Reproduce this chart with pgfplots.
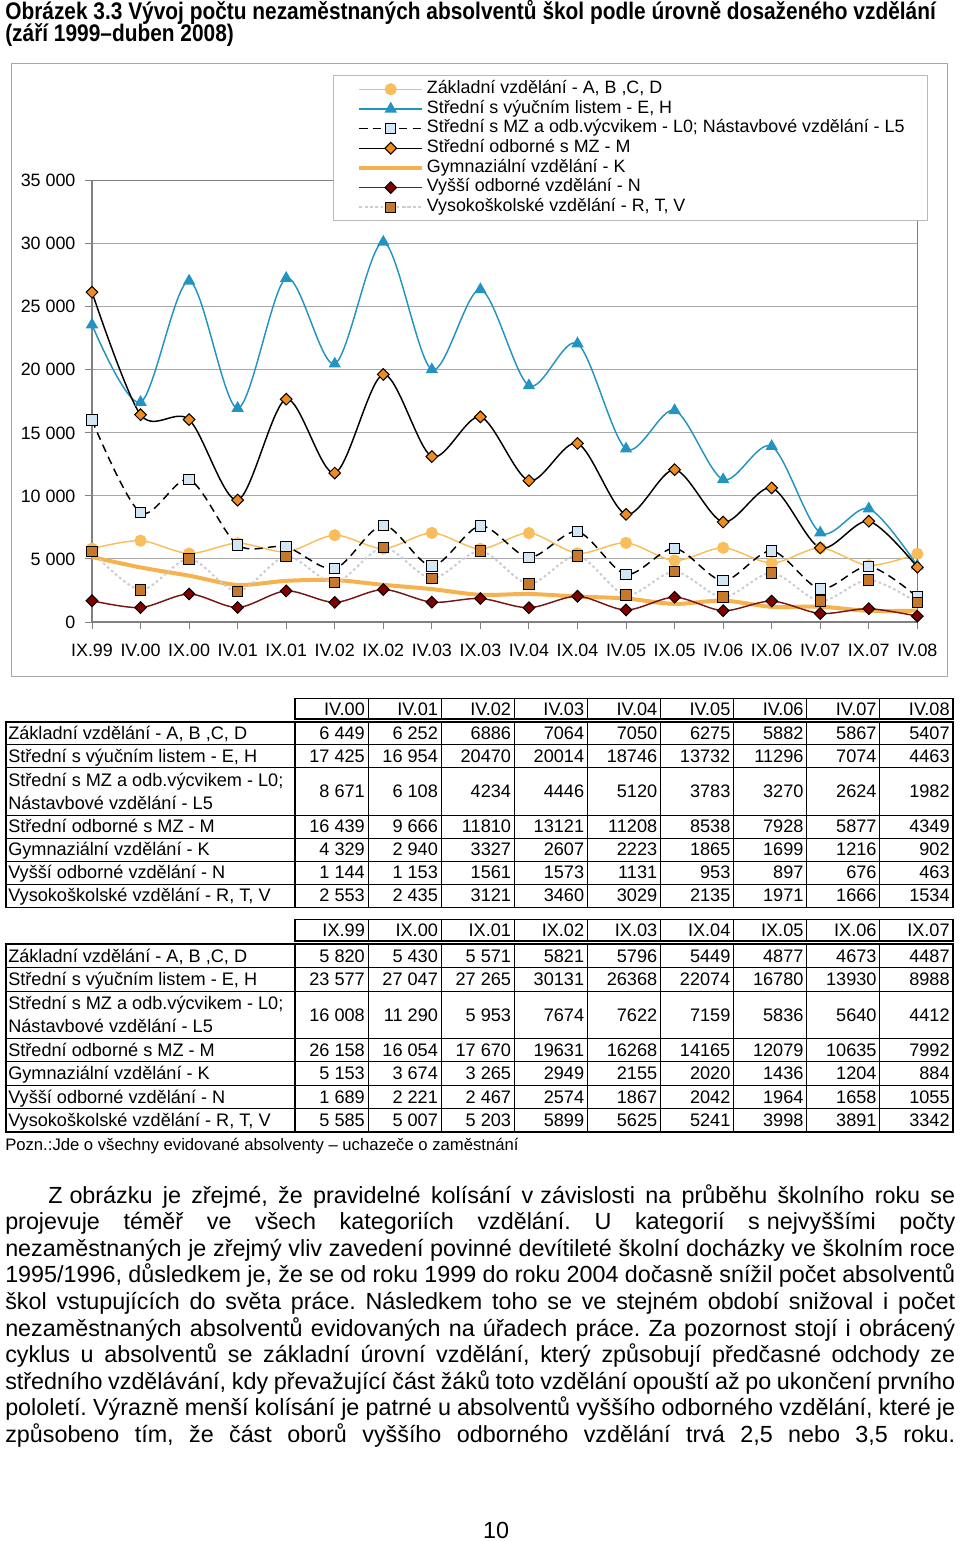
\documentclass[border=0pt]{standalone}
\usepackage{fontspec}
\setmainfont{Liberation Sans}
\newfontfamily\titlefont[FakeStretch=0.87]{Liberation Sans}
\usepackage{pgfplots}
\pgfplotsset{compat=1.18}
\definecolor{czakl}{HTML}{F9BE5B}
\definecolor{cvyuc}{HTML}{2394C2}
\definecolor{cmzfill}{HTML}{D2E6F5}
\definecolor{cdiam}{HTML}{F08C1E}
\definecolor{cgym}{HTML}{F5B24E}
\definecolor{cvos}{HTML}{7A1515}
\definecolor{cvosm}{HTML}{800000}
\definecolor{cvsline}{HTML}{C8CDD6}
\definecolor{cvsm}{HTML}{C8782A}
\definecolor{axgray}{HTML}{808080}
\definecolor{gridgray}{HTML}{A8A8A8}
\newcommand\tabvals[2]{\foreach \v [count=\i] in {#2}{\node[anchor=base east,inner sep=0pt] at ({295+73.1*\i-3},#1) {\v};}}
\newcommand\tabgrid[3]{%
  \draw[line width=1.4pt] (295,#1) rectangle (953,#2);
  \foreach \i in {1,...,8}{\draw[line width=0.7pt] ({295+73.1*\i},#1) -- ({295+73.1*\i},#2);}
}
\begin{document}
\frenchspacing
\begin{tikzpicture}
\useasboundingbox (0,0) rectangle (720pt,-1155.75pt);
\begin{scope}[x=0.75pt,y=-0.75pt]
 \node[anchor=base west, inner sep=0pt] at (5,20) {\titlefont\bfseries\fontsize{18}{20}\selectfont Obrázek 3.3 Vývoj počtu nezaměstnaných absolventů škol podle úrovně dosaženého vzdělání};
 \node[anchor=base west, inner sep=0pt] at (5,42) {\titlefont\bfseries\fontsize{18}{20}\selectfont (září 1999–duben 2008)};
 \draw[gridgray, line width=0.75pt] (11,64) rectangle (947,676);
\end{scope}
\begin{axis}[
 at={(69pt,-466.5pt)}, anchor=south west,
 scale only axis, width=619pt, height=331pt,
 xmin=0, xmax=17, ymin=0, ymax=35000,
 scaled y ticks=false,
 xtick={0,...,17},
 xticklabels={IX.99,IV.00,IX.00,IV.01,IX.01,IV.02,IX.02,IV.03,IX.03,IV.04,IX.04,IV.05,IX.05,IV.06,IX.06,IV.07,IX.07,IV.08},
 ytick={0,5000,...,35000},
 yticklabels={0,5 000,10 000,15 000,20 000,25 000,30 000,35 000},
 ymajorgrids, grid style={gridgray, line width=0.75pt},
 axis line style={axgray, line width=1pt},
 tick style={axgray, line width=0.75pt},
 tick align=outside, major tick length=5.25pt,
 xtick pos=left, ytick pos=left,
 ticklabel style={font=\fontsize{13.4}{15}\selectfont, inner sep=0pt},
 xticklabel style={anchor=north, yshift=-11pt},
 yticklabel style={anchor=east, xshift=-7pt},
 clip=false,
 legend style={at={(0.3211,1.230)}, anchor=north west, draw=none, fill=none,
   font=\fontsize{13.4}{15}\selectfont, row sep=0pt, inner sep=0pt,
   nodes={inner xsep=2pt, inner ysep=0pt, text height=10.5pt, text depth=4.25pt}},
 legend cell align=left,
 legend image code/.code={\draw[mark repeat=2,mark phase=2,#1] plot coordinates {(0pt,0pt) (23.6pt,0pt) (47.2pt,0pt)};},
]
\addplot[czakl, line width=1.1pt, smooth, tension=0.5, mark=*, mark size=4pt, mark options={fill=czakl, draw=czakl}] coordinates {
(0,5820) (1,6449) (2,5430) (3,6252) (4,5571) (5,6886) (6,5821) (7,7064) (8,5796) (9,7050) (10,5449) (11,6275) (12,4877) (13,5882) (14,4673) (15,5867) (16,4487) (17,5407)};
\addlegendentry{Základní vzdělání - A, B ,C, D}
\addplot[cvyuc, line width=1.1pt, smooth, tension=0.5, mark=triangle*, mark size=4.3pt, mark options={fill=cvyuc, draw=cvyuc}] coordinates {
(0,23577) (1,17425) (2,27047) (3,16954) (4,27265) (5,20470) (6,30131) (7,20014) (8,26368) (9,18746) (10,22074) (11,13732) (12,16780) (13,11296) (14,13930) (15,7074) (16,8988) (17,4463)};
\addlegendentry{Střední s výučním listem - E, H}
\addplot[black, line width=1.1pt, smooth, tension=0.5, dash pattern=on 6pt off 4pt, mark=square*, mark size=3.9pt, mark options={solid, fill=cmzfill, draw=black, line width=0.75pt}] coordinates {
(0,16008) (1,8671) (2,11290) (3,6108) (4,5953) (5,4234) (6,7674) (7,4446) (8,7622) (9,5120) (10,7159) (11,3783) (12,5836) (13,3270) (14,5640) (15,2624) (16,4412) (17,1982)};
\addlegendentry{Střední s MZ a odb.výcvikem - L0; Nástavbové vzdělání - L5}
\addplot[black, line width=1.1pt, smooth, tension=0.5, mark=square*, mark size=3.1pt, mark options={rotate=45, fill=cdiam, draw=black, line width=0.75pt}] coordinates {
(0,26158) (1,16439) (2,16054) (3,9666) (4,17670) (5,11810) (6,19631) (7,13121) (8,16268) (9,11208) (10,14165) (11,8538) (12,12079) (13,7928) (14,10635) (15,5877) (16,7992) (17,4349)};
\addlegendentry{Střední odborné s MZ - M}
\addplot[cgym, line width=3pt, smooth, tension=0.5, no marks] coordinates {
(0,5153) (1,4329) (2,3674) (3,2940) (4,3265) (5,3327) (6,2949) (7,2607) (8,2155) (9,2223) (10,2020) (11,1865) (12,1436) (13,1699) (14,1204) (15,1216) (16,884) (17,902)};
\addlegendentry{Gymnaziální vzdělání - K}
\addplot[cvos, line width=1.1pt, smooth, tension=0.5, mark=square*, mark size=3.1pt, mark options={rotate=45, fill=cvosm, draw=black, line width=0.75pt}] coordinates {
(0,1689) (1,1144) (2,2221) (3,1153) (4,2467) (5,1561) (6,2574) (7,1573) (8,1867) (9,1131) (10,2042) (11,953) (12,1964) (13,897) (14,1658) (15,676) (16,1055) (17,463)};
\addlegendentry{Vyšší odborné vzdělání - N}
\addplot[cvsline, line width=1.5pt, smooth, tension=0.5, dash pattern=on 2pt off 2pt, mark=square*, mark size=3.9pt, mark options={solid, fill=cvsm, draw=black, line width=0.75pt}] coordinates {
(0,5585) (1,2553) (2,5007) (3,2435) (4,5203) (5,3121) (6,5899) (7,3460) (8,5625) (9,3029) (10,5241) (11,2135) (12,3998) (13,1971) (14,3891) (15,1666) (16,3342) (17,1534)};
\addlegendentry{Vysokoškolské vzdělání - R, T, V}
\draw[gray!55, fill=white, line width=0.75pt] (rel axis cs:0.2920,1.2373) rectangle (rel axis cs:1.0118,0.9087);
\end{axis}
\begin{scope}[x=0.75pt,y=-0.75pt, every node/.style={inner sep=0pt}]
 \fontsize{13.6}{16}\selectfont
 % ---------- table 1 ----------
 \tabgrid{698.5}{719}{722}
 \draw[line width=1.4pt] (6,722) rectangle (953,907.5);
 \draw[line width=1.4pt] (295,722) -- (295,907.5);
 \foreach \y in {744.3,767.5,815,838,861,884.3}{\draw[line width=0.7pt] (6,\y) -- (953,\y);}
 \foreach \i in {1,...,8}{\draw[line width=0.7pt] ({295+73.1*\i},722) -- ({295+73.1*\i},907.5);}
 \tabvals{715}{IV.00,IV.01,IV.02,IV.03,IV.04,IV.05,IV.06,IV.07,IV.08}
 \node[anchor=base west] at (8,739.5) {Základní vzdělání - A, B ,C, D};
 \node[anchor=base west] at (8,762.5) {Střední s výučním listem - E, H};
 \node[anchor=base west] at (8,786.5) {Střední s MZ a odb.výcvikem - L0;};
 \node[anchor=base west] at (8,809.5) {Nástavbové vzdělání - L5};
 \node[anchor=base west] at (8,832.5) {Střední odborné s MZ - M};
 \node[anchor=base west] at (8,855.5) {Gymnaziální vzdělání - K};
 \node[anchor=base west] at (8,878.5) {Vyšší odborné vzdělání - N};
 \node[anchor=base west] at (8,901.5) {Vysokoškolské vzdělání - R, T, V};
 \tabvals{739.5}{6 449,6 252,6886,7064,7050,6275,5882,5867,5407}
 \tabvals{762.5}{17 425,16 954,20470,20014,18746,13732,11296,7074,4463}
 \tabvals{797.5}{8 671,6 108,4234,4446,5120,3783,3270,2624,1982}
 \tabvals{832.5}{16 439,9 666,11810,13121,11208,8538,7928,5877,4349}
 \tabvals{855.5}{4 329,2 940,3327,2607,2223,1865,1699,1216,902}
 \tabvals{878.5}{1 144,1 153,1561,1573,1131,953,897,676,463}
 \tabvals{901.5}{2 553,2 435,3121,3460,3029,2135,1971,1666,1534}
 % ---------- table 2 ----------
 \tabgrid{919.5}{941}{944}
 \draw[line width=1.4pt] (6,944) rectangle (953,1132);
 \draw[line width=1.4pt] (295,944) -- (295,1132);
 \foreach \y in {967.5,991,1038,1061,1085,1108}{\draw[line width=0.7pt] (6,\y) -- (953,\y);}
 \foreach \i in {1,...,8}{\draw[line width=0.7pt] ({295+73.1*\i},944) -- ({295+73.1*\i},1132);}
 \tabvals{936.5}{IX.99,IX.00,IX.01,IX.02,IX.03,IX.04,IX.05,IX.06,IX.07}
 \node[anchor=base west] at (8,962.5) {Základní vzdělání - A, B ,C, D};
 \node[anchor=base west] at (8,985.5) {Střední s výučním listem - E, H};
 \node[anchor=base west] at (8,1009.5) {Střední s MZ a odb.výcvikem - L0;};
 \node[anchor=base west] at (8,1032.5) {Nástavbové vzdělání - L5};
 \node[anchor=base west] at (8,1056.5) {Střední odborné s MZ - M};
 \node[anchor=base west] at (8,1079.5) {Gymnaziální vzdělání - K};
 \node[anchor=base west] at (8,1103.5) {Vyšší odborné vzdělání - N};
 \node[anchor=base west] at (8,1126.5) {Vysokoškolské vzdělání - R, T, V};
 \tabvals{962.5}{5 820,5 430,5 571,5821,5796,5449,4877,4673,4487}
 \tabvals{985.5}{23 577,27 047,27 265,30131,26368,22074,16780,13930,8988}
 \tabvals{1021}{16 008,11 290,5 953,7674,7622,7159,5836,5640,4412}
 \tabvals{1056.5}{26 158,16 054,17 670,19631,16268,14165,12079,10635,7992}
 \tabvals{1079.5}{5 153,3 674,3 265,2949,2155,2020,1436,1204,884}
 \tabvals{1103.5}{1 689,2 221,2 467,2574,1867,2042,1964,1658,1055}
 \tabvals{1126.5}{5 585,5 007,5 203,5899,5625,5241,3998,3891,3342}
 \node[anchor=base west] at (5,1150) {\fontsize{12.5}{14}\selectfont Pozn.:Jde o všechny evidované absolventy – uchazeče o zaměstnání};
 % ---------- paragraph ----------
 \begin{scope}[every node/.style={anchor=base west, inner sep=0pt, font=\fontsize{17.5}{20}\selectfont}]
 \node at (48,1203) {\makebox[680.25pt][s]{Z\hspace{.3em}obrázku je zřejmé, že pravidelné kolísání v\hspace{.3em}závislosti na průběhu školního roku se}};
 \node at (5,1229.6) {\makebox[712.5pt][s]{projevuje téměř ve všech kategoriích vzdělání. U kategorií s\hspace{.3em}nejvyššími počty}};
 \node at (5,1256.2) {\makebox[712.5pt][s]{nezaměstnaných je zřejmý vliv zavedení povinné devítileté školní docházky ve školním roce}};
 \node at (5,1282.8) {\makebox[712.5pt][s]{1995/1996, důsledkem je, že se od roku 1999 do roku 2004 dočasně snížil počet absolventů}};
 \node at (5,1309.4) {\makebox[712.5pt][s]{škol vstupujících do světa práce. Následkem toho se ve stejném období snižoval i počet}};
 \node at (5,1336.0) {\makebox[712.5pt][s]{nezaměstnaných absolventů evidovaných na úřadech práce. Za pozornost stojí i obrácený}};
 \node at (5,1362.6) {\makebox[712.5pt][s]{cyklus u absolventů se základní úrovní vzdělání, který způsobují předčasné odchody ze}};
 \node at (5,1389.2) {\makebox[712.5pt][s]{středního vzdělávání, kdy převažující část žáků toto vzdělání opouští až po ukončení prvního}};
 \node at (5,1415.8) {\makebox[712.5pt][s]{pololetí. Výrazně menší kolísání je patrné u absolventů vyššího odborného vzdělání, které je}};
 \node at (5,1442.4) {\makebox[712.5pt][s]{způsobeno tím, že část oborů vyššího odborného vzdělání trvá 2,5 nebo 3,5 roku.}};
 \node[anchor=base] at (496,1538) {10};
 \end{scope}
\end{scope}
\end{tikzpicture}
\end{document}
